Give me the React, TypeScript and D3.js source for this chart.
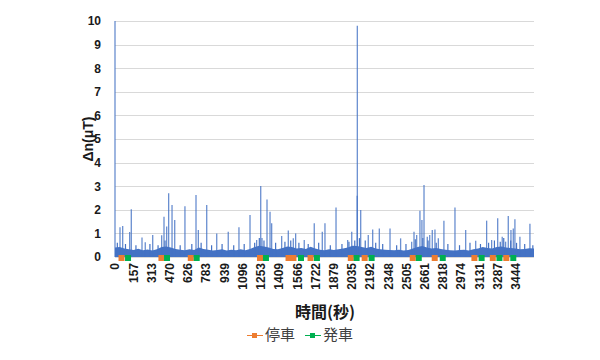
import React from "react";
import * as d3 from "d3";

// ---- data ----
const xTickLabels = [0, 157, 313, 470, 626, 783, 939, 1096, 1253, 1409, 1566, 1722, 1879, 2035, 2192, 2348, 2505, 2661, 2818, 2974, 3131, 3287, 3444];
const yTicks = [0, 1, 2, 3, 4, 5, 6, 7, 8, 9, 10];

// noise band level sampled every 40 s (0 .. 3600)
const noiseStep = 40;
const noiseValues = [
  0.4, 0.42, 0.36, 0.33, 0.3, 0.35, 0.29, 0.32, 0.28, 0.33,
  0.42, 0.45, 0.4, 0.34, 0.31, 0.29, 0.33, 0.3, 0.4, 0.34,
  0.31, 0.28, 0.3, 0.33, 0.28, 0.31, 0.29, 0.33, 0.29, 0.34,
  0.42, 0.48, 0.45, 0.4, 0.34, 0.33, 0.38, 0.45, 0.42, 0.36,
  0.38, 0.34, 0.43, 0.36, 0.31, 0.29, 0.33, 0.3, 0.33, 0.36,
  0.4, 0.48, 0.47, 0.42, 0.38, 0.43, 0.36, 0.33, 0.31, 0.3,
  0.29, 0.31, 0.28, 0.3, 0.36, 0.42, 0.47, 0.4, 0.36, 0.38,
  0.34, 0.31, 0.29, 0.28, 0.3, 0.31, 0.28, 0.33, 0.36, 0.42,
  0.38, 0.36, 0.42, 0.45, 0.4, 0.38, 0.36, 0.33, 0.34, 0.37,
  0.36,
];

// small spikes inside / just above the noise band
const minorTimes = [20, 90, 180, 300, 370, 430, 560, 660, 740, 830, 920, 1020, 1110, 1200, 1240, 1280, 1380, 1460, 1510, 1580, 1660, 1750, 1850, 1950, 2010, 2060, 2100, 2150, 2240, 2300, 2420, 2500, 2580, 2645, 2690, 2760, 2860, 2960, 3050, 3140, 3210, 3260, 3310, 3340, 3400, 3450, 3520, 3590];
const minorValues = [0.6, 0.55, 0.5, 0.55, 0.5, 0.7, 0.5, 0.55, 0.6, 0.5, 0.55, 0.5, 0.55, 0.6, 0.8, 0.7, 0.6, 0.65, 0.7, 0.6, 0.55, 0.6, 0.5, 0.55, 0.65, 0.7, 0.8, 0.7, 0.6, 0.55, 0.5, 0.55, 0.75, 0.8, 0.7, 0.6, 0.55, 0.5, 0.6, 0.55, 0.6, 0.7, 0.65, 0.8, 0.7, 0.6, 0.55, 0.5];

// spikes (time in s, Δn in μT)
const spikeTimes = [0, 43, 66, 126, 140, 232, 260, 324, 401, 421, 444, 461, 490, 513, 601, 696, 716, 788, 874, 973, 1065, 1160, 1217, 1252, 1263, 1306, 1332, 1346, 1432, 1489, 1532, 1552, 1626, 1712, 1781, 1804, 1899, 1999, 2034, 2081, 2082, 2111, 2176, 2214, 2271, 2363, 2454, 2549, 2569, 2592, 2620, 2637, 2655, 2683, 2704, 2726, 2749, 2778, 2826, 2921, 3013, 3099, 3193, 3236, 3288, 3327, 3356, 3379, 3402, 3422, 3436, 3479, 3565];
const spikeValues = [10, 1.26, 1.31, 1.06, 2.02, 0.83, 0.63, 0.93, 0.92, 1.71, 1.29, 2.7, 2.2, 1.57, 2.15, 2.63, 1.14, 2.2, 1.0, 1.07, 1.26, 1.78, 0.72, 3.01, 0.8, 2.44, 1.92, 1.43, 0.89, 1.12, 0.79, 1.0, 0.72, 1.43, 1.07, 1.43, 2.1, 0.72, 1.07, 2.6, 9.8, 1.99, 0.93, 1.17, 1.21, 1.21, 0.79, 0.65, 1.07, 0.93, 1.96, 1.57, 3.05, 0.86, 0.93, 1.14, 1.17, 0.79, 1.54, 2.1, 1.14, 0.69, 1.54, 0.72, 1.64, 0.86, 0.65, 1.74, 1.14, 1.21, 1.6, 0.86, 1.41];

// events
const stopTimes = [56, 399, 651, 1246, 1491, 1533, 1680, 2026, 2145, 2558, 2747, 3088, 3246, 3362];
const departTimes = [112, 447, 702, 1297, 1598, 1735, 2076, 2205, 2610, 2816, 3150, 3303, 3422];

const seriesNames = ["停車", "発車"];

// ---- layout ----
const W = 600, H = 360;
const plotLeft = 115, plotRight = 534, plotTop = 21, plotBottom = 257;
const BLUE = "#4472C4";
const ORANGE = "#ED7D31";
const GREEN = "#00B050";

export default function App() {
  const x = d3.scaleLinear().domain([0, 3600]).range([plotLeft, plotRight]);
  const y = d3.scaleLinear().domain([0, 10]).range([plotBottom, plotTop]);

  const noisePts: [number, number][] = noiseValues.map((v, i) => [i * noiseStep, v]);
  const area = d3
    .area<[number, number]>()
    .x((d) => x(d[0]))
    .y0(y(0))
    .y1((d) => y(d[1]));
  const line = d3
    .line<[number, number]>()
    .x((d) => x(d[0]))
    .y((d) => y(d[1]));

  const font = "'Liberation Sans', Arial, sans-serif";
  const jp = "'Noto Sans CJK JP', sans-serif";

  return (
    <svg width={W} height={H} style={{ display: "block", position: "absolute", left: 0, top: 0 }}>
      <rect width={W} height={H} fill="#fff" />
      {/* gridlines */}
      {yTicks.map((t) => (
        <line key={t} x1={plotLeft} x2={plotRight} y1={Math.round(y(t)) + 0.5} y2={Math.round(y(t)) + 0.5} stroke="#D9D9D9" strokeWidth={1} />
      ))}
      {/* y tick labels */}
      {yTicks.map((t) => (
        <text key={t} x={101} y={y(t)} dy="0.36em" textAnchor="end" fontFamily={font} fontWeight="bold" fontSize={12} fill="#1a1a1a">
          {t}
        </text>
      ))}
      {/* noise band */}
      <path d={area(noisePts) || ""} fill={BLUE} />
      {minorTimes.map((t, i) => (
        <path key={"m" + i} d={line([[t, 0], [t, minorValues[i]]]) || ""} stroke={BLUE} strokeWidth={1.2} fill="none" />
      ))}
      {/* spikes */}
      {spikeTimes.map((t, i) => (
        <path
          key={i}
          d={line([[t, 0], [t, spikeValues[i]]]) || ""}
          stroke={BLUE}
          strokeWidth={1.3}
          strokeOpacity={0.8}
          fill="none"
        />
      ))}
      {/* markers */}
      {stopTimes.map((t, i) => (
        <rect key={"s" + i} x={x(t) - 3} y={y(0) - 2} width={6} height={6} fill={ORANGE} />
      ))}
      {departTimes.map((t, i) => (
        <rect key={"d" + i} x={x(t) - 3} y={y(0) - 2} width={6} height={6} fill={GREEN} />
      ))}
      {/* x tick labels */}
      {xTickLabels.map((t) => (
        <text
          key={t}
          transform={`translate(${x(t)},263) rotate(-90)`}
          dy="0.36em"
          textAnchor="end"
          fontFamily={font}
          fontWeight="bold"
          fontSize={12}
          fill="#1a1a1a"
        >
          {t}
        </text>
      ))}
      {/* axis titles */}
      <text x={325} y={318} textAnchor="middle" fontFamily={jp} fontWeight="bold" fontSize={16} fill="#1a1a1a">
        時間(秒)
      </text>
      <text transform="translate(93,139) rotate(-90)" textAnchor="middle" fontFamily={font} fontWeight="bold" fontSize={14} fill="#1a1a1a">
        Δn(μT)
      </text>
      {/* legend */}
      {[ORANGE, GREEN].map((c, i) => {
        const lx = 247 + i * 58;
        return (
          <g key={i}>
            <line x1={lx} x2={lx + 16} y1={335.5} y2={335.5} stroke={c} strokeWidth={1} />
            <rect x={lx + 5} y={333} width={5} height={5} fill={c} />
            <text x={lx + 18} y={335} dy="0.36em" fontFamily={jp} fontSize={15} fill="#404040">
              {seriesNames[i]}
            </text>
          </g>
        );
      })}
    </svg>
  );
}
